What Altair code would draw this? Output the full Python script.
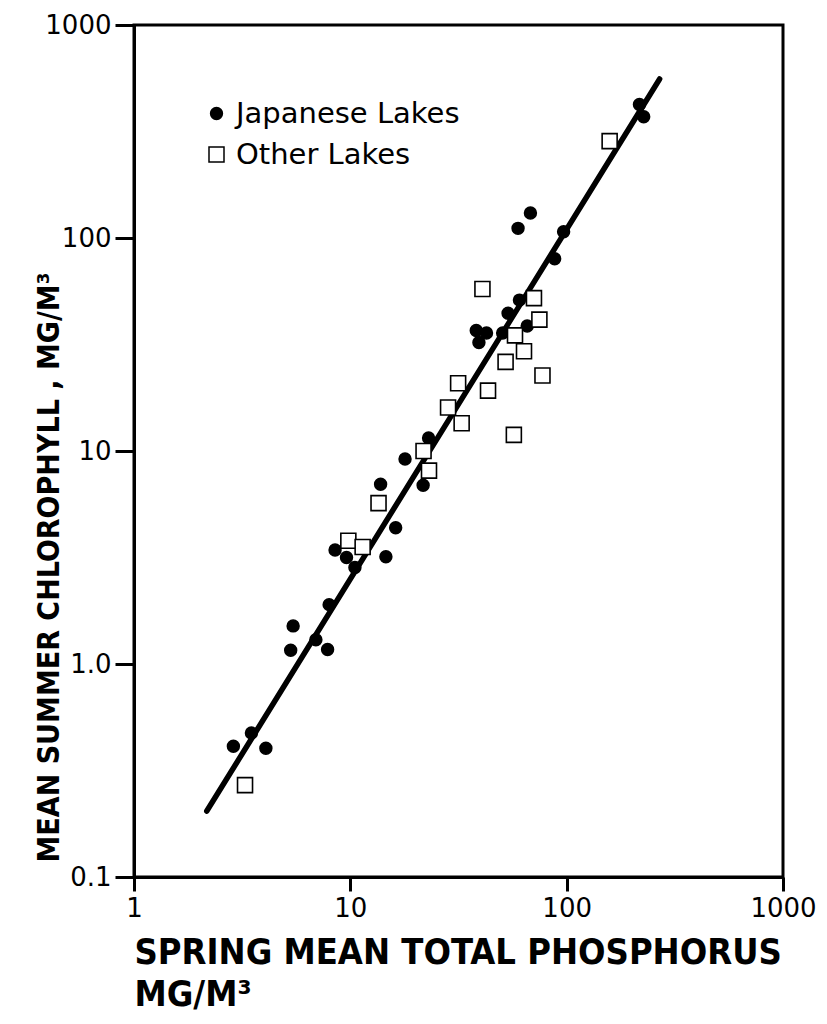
import altair as alt
import pandas as pd

# Japanese lakes (filled circles): spring mean TP (mg/m3), summer chlorophyll (mg/m3)
jp_tp = [2.88, 3.49, 4.07, 5.30, 5.44, 6.93, 7.85, 7.98, 8.50, 9.60, 10.5, 14.6, 16.2,
         13.8, 17.9, 21.7, 23.0, 38.2, 42.6, 39.3, 50.6, 53.6, 65.7, 60.5, 59.6, 68.0,
         88.0, 96.8, 217, 227]
jp_chl = [0.411, 0.474, 0.402, 1.16, 1.51, 1.30, 1.17, 1.90, 3.43, 3.16, 2.84, 3.19, 4.36,
          6.98, 9.17, 6.91, 11.5, 36.8, 35.8, 32.3, 35.8, 44.3, 38.6, 51.1, 111, 131,
          79.9, 107, 423, 371]

# Other lakes (open squares)
ot_tp = [3.26, 9.79, 11.4, 13.5, 23.1, 21.8, 28.3, 32.7, 31.5, 43.3, 57.0, 40.8, 70.6,
         74.8, 57.7, 63.5, 52.2, 77.3, 158]
ot_chl = [0.270, 3.79, 3.54, 5.69, 8.09, 10.0, 16.0, 13.5, 20.8, 19.2, 11.9, 57.6, 52.2,
          41.4, 34.9, 29.4, 26.2, 22.6, 285]

# Regression line end points
line_tp = [2.17, 269]
line_chl = [0.204, 558]

groups = ["Japanese Lakes", "Other Lakes"]

x_ticks = [1, 10, 100, 1000]
x_labels = ["1", "10", "100", "1000"]
y_ticks = [0.1, 1, 10, 100, 1000]
y_labels = ["0.1", "1.0", "10", "100", "1000"]

x_title = ["SPRING MEAN TOTAL PHOSPHORUS", "MG/M³"]
y_title = "MEAN SUMMER CHLOROPHYLL , MG/M³"


def label_expr(vals, labs):
    return " : ".join(f"datum.value == {v} ? '{l}'" for v, l in zip(vals, labs)) + " : ''"


df_pts = pd.DataFrame({
    "tp": jp_tp + ot_tp,
    "chl": jp_chl + ot_chl,
    "group": [groups[0]] * len(jp_tp) + [groups[1]] * len(ot_tp),
})
df_line = pd.DataFrame({"tp": line_tp, "chl": line_chl})

TITLE_FONT = "DejaVu Sans Condensed, Liberation Sans Narrow, DejaVu Sans"
LABEL_FONT = "DejaVu Sans"

x_enc = alt.X(
    "tp:Q",
    scale=alt.Scale(type="log", domain=[1, 1000], nice=False),
    axis=alt.Axis(
        values=x_ticks, labelExpr=label_expr(x_ticks, x_labels), title=x_title,
        grid=False, tickSize=14, tickWidth=3, domainWidth=3, domainColor="black",
        tickColor="black", labelFont=LABEL_FONT, labelFontSize=26, labelColor="black",
        labelPadding=4, labelFlush=False, labelOverlap=False,
        titleFont=TITLE_FONT, titleFontSize=36, titleFontWeight="bold", titleColor="black",
        titleAlign="left", titleAnchor="start", titleX=0, titleY=86,
        titleBaseline="alphabetic", titleLineHeight=42,
    ),
)
y_enc = alt.Y(
    "chl:Q",
    scale=alt.Scale(type="log", domain=[0.1, 1000], nice=False),
    axis=alt.Axis(
        values=y_ticks, labelExpr=label_expr(y_ticks, y_labels), title=y_title,
        grid=False, tickSize=19, tickWidth=3, domainWidth=3, domainColor="black",
        tickColor="black", labelFont=LABEL_FONT, labelFontSize=26, labelColor="black",
        labelPadding=4, labelFlush=False, labelOverlap=False,
        titleFont=TITLE_FONT, titleFontSize=30, titleFontWeight="bold", titleColor="black",
        titleAngle=270, titleAlign="left", titleX=-76, titleY=837,
        titleBaseline="alphabetic",
    ),
)

line = alt.Chart(df_line).mark_line(color="black", strokeWidth=5.5, strokeCap="round").encode(
    x=x_enc, y=y_enc
)

legend = alt.Legend(
    title=None, orient="none", legendX=68, legendY=74,
    labelFont=LABEL_FONT, labelFontSize=29, labelColor="black", labelOffset=5,
    labelLimit=0, symbolSize=120, symbolStrokeColor="black", symbolStrokeWidth=1.5,
    rowPadding=11,
)

points = alt.Chart(df_pts).mark_point(filled=True, stroke="black", strokeWidth=1.6, opacity=1).encode(
    x=x_enc,
    y=y_enc,
    color=alt.Color("group:N", scale=alt.Scale(domain=groups, range=["black", "white"]), legend=legend),
    shape=alt.Shape("group:N", scale=alt.Scale(domain=groups, range=["circle", "square"]), legend=legend),
    size=alt.Size("group:N", scale=alt.Scale(domain=groups, range=[140, 225]), legend=None),
)

chart = (
    alt.layer(line, points)
    .properties(
        width=649, height=852, autosize="none",
        padding={"left": 126, "top": 17, "right": 35, "bottom": 136},
        background="white",
    )
    .configure_view(stroke="black", strokeWidth=3)
)

chart.save("out.html", embed_options={"renderer": "svg", "actions": False})
